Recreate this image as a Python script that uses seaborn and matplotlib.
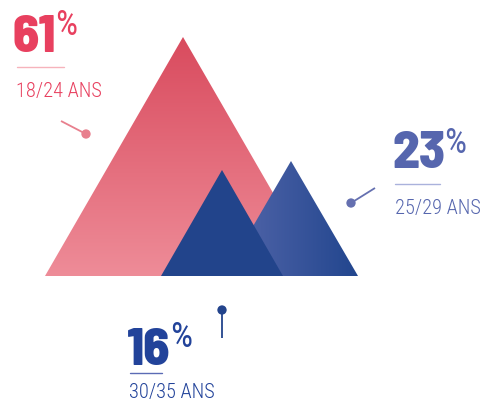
import matplotlib
matplotlib.use("Agg")
import matplotlib.pyplot as plt
import numpy as np
import seaborn as sns
from matplotlib.patches import Polygon
from matplotlib.colors import LinearSegmentedColormap

# ---- data ----
groups = ["18/24 ANS", "25/29 ANS", "30/35 ANS"]
percents = [61, 23, 16]

# ---- layout (pixel coordinates, y downward) ----
peak_x = [183, 291, 222]
peak_y = [37, 161, 170]
half_w = [138, 67, 61]
base_y = 276

num_pos = [(13, 52), (392, 168), (127, 365)]
pct_pos = [(55, 35), (444, 153), (170, 347)]
rule_pos = [(17, 64, 66.5), (395, 440, 183.5), (130, 162, 373)]
lab_pos = [(16, 97), (395, 214), (129, 398)]
dot_pos = [(86, 134), (351, 203), (222, 310)]
stick_end = [(61, 121), (375, 188), (222, 338)]

text_colors = ["#e8405f", "#5666ae", "#22439a"]
rule_colors = ["#f6b3bc", "#aab2dc", "#5b6bb5"]
dot_colors = ["#e8808e", "#6570b0", "#23448c"]

sns.set_theme(style="white")
plt.rcParams["font.family"] = ["Roboto Condensed", "DejaVu Sans"]
NUM_FONT = ["Barlow Semi Condensed", "Roboto Condensed", "DejaVu Sans"]

fig = plt.figure(figsize=(4.84, 4.01), dpi=100)
ax = fig.add_axes([0, 0, 1, 1])

red_cm = LinearSegmentedColormap.from_list("r", ["#d94b5e", "#ee8c98"])
blue_cm = LinearSegmentedColormap.from_list("b", ["#5567ab", "#22468e"])
solid_blue = "#22448b"

for i in range(3):
    px, py, hw = peak_x[i], peak_y[i], half_w[i]
    verts = [(px - hw, base_y), (px, py), (px + hw, base_y)]
    poly = Polygon(verts, closed=True, facecolor="none", edgecolor="none")
    ax.add_patch(poly)
    if i == 0:
        im = ax.imshow(np.linspace(0, 1, 256).reshape(-1, 1), cmap=red_cm,
                       extent=(px - hw, px + hw, base_y, py), origin="lower",
                       aspect="auto", zorder=1 + i)
        im.set_extent((px - hw, px + hw, py, base_y))
        im.set_clip_path(poly)
    elif i == 1:
        im = ax.imshow(np.linspace(0, 1, 256).reshape(1, -1), cmap=blue_cm,
                       extent=(px - hw, px + hw, base_y, py),
                       aspect="auto", zorder=1 + i)
        im.set_clip_path(poly)
    else:
        ax.add_patch(Polygon(verts, closed=True, facecolor=solid_blue,
                             edgecolor="none", zorder=1 + i))

for i in range(3):
    c = text_colors[i]
    ax.text(*num_pos[i], f"{percents[i]}", color=c, fontsize=38,
            family=NUM_FONT, fontweight=800, ha="left", va="baseline", zorder=10)
    ax.text(*pct_pos[i], "%", color=c, fontsize=25, fontweight="normal",
            ha="left", va="baseline", zorder=10)
    x0, x1, yy = rule_pos[i]
    ax.plot([x0, x1], [yy, yy], color=rule_colors[i], lw=1.0, zorder=10)
    ax.text(*lab_pos[i], groups[i], color=c, fontsize=14.7, fontweight="light",
            ha="left", va="baseline", zorder=10)
    dx, dy = dot_pos[i]
    ex, ey = stick_end[i]
    ax.plot([dx, ex], [dy, ey], color=dot_colors[i], lw=1.3, zorder=10,
            solid_capstyle="butt")

sns.scatterplot(x=[p[0] for p in dot_pos], y=[p[1] for p in dot_pos],
                hue=groups, palette=dot_colors, s=45, edgecolor="none",
                legend=False, ax=ax, zorder=11)
ax.set_xlim(0, 484)
ax.set_ylim(401, 0)
ax.axis("off")

fig.savefig("out.png", dpi=100)
